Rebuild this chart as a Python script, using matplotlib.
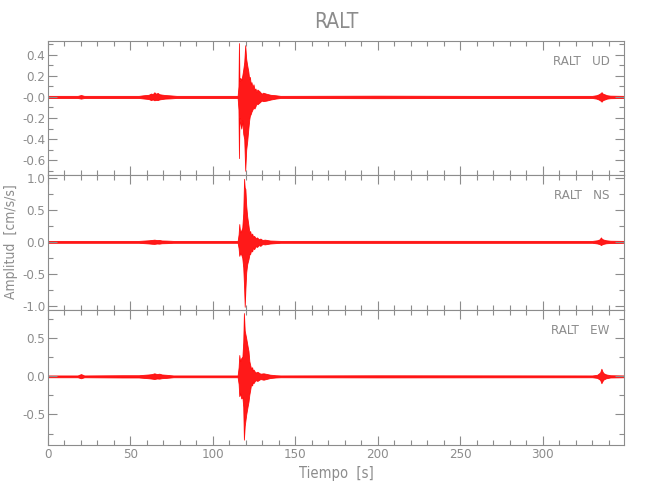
import matplotlib

matplotlib.use("Agg")
import matplotlib.pyplot as plt
from matplotlib import font_manager
from matplotlib.ticker import MultipleLocator

# narrow thin face, close to the plotting font of the original
names = {f.name for f in font_manager.fontManager.ttflist}
narrow = [n for n in ["Liberation Sans Narrow", "DejaVu Sans"] if n in names]
plt.rcParams["font.family"] = narrow + ["DejaVu Sans"]
plt.rcParams["font.stretch"] = "condensed"
plt.rcParams["font.weight"] = "light"

GRAY = "#8c8c8c"
TRACE = "#ff0000"

station = "RALT"
components = ["UD", "NS", "EW"]

# envelope of each trace (time [s], upper and lower amplitude [cm/s/s])
t_ud = [0, 18, 20, 22, 55, 58, 61, 62.5, 63.5, 64.5, 65.5, 66.5, 67.5, 69, 71, 74, 78,
        115.0, 115.5, 115.8, 116.1, 116.6, 117.2, 117.8, 118.4, 119.0, 119.6, 120.2, 120.8,
        121.5, 122.0, 122.4, 123.0, 123.4, 124.0, 124.6, 125.2, 125.8, 126.4, 127.0, 128.5,
        129.5, 130.5, 132.5, 135.0, 138.0, 141.0,
        200, 260, 330, 332.5, 334, 335, 335.7, 336.5, 337.5, 339, 341, 349.3]
hi_ud = [0.01, 0.01, 0.018, 0.01, 0.01, 0.016, 0.02, 0.032, 0.026, 0.044, 0.03, 0.038, 0.026, 0.022, 0.018, 0.015, 0.01,
         0.01, 0.10, 0.51, 0.15, 0.18, 0.16, 0.20, 0.26, 0.33, 0.49, 0.36, 0.30,
         0.24, 0.17, 0.19, 0.12, 0.14, 0.09, 0.12, 0.07, 0.08, 0.05, 0.07, 0.05,
         0.03, 0.04, 0.03, 0.02, 0.016, 0.01,
         0.012, 0.01, 0.01, 0.016, 0.025, 0.035, 0.045, 0.03, 0.025, 0.016, 0.012, 0.01]
lo_ud = [-0.01, -0.01, -0.016, -0.01, -0.01, -0.015, -0.02, -0.03, -0.024, -0.032, -0.028, -0.03, -0.024, -0.02, -0.016, -0.014, -0.01,
         -0.01, -0.12, -0.58, -0.20, -0.25, -0.30, -0.22, -0.35, -0.40, -0.70, -0.50, -0.42,
         -0.30, -0.22, -0.18, -0.16, -0.14, -0.12, -0.10, -0.11, -0.09, -0.06, -0.07, -0.05,
         -0.035, -0.04, -0.035, -0.025, -0.016, -0.01,
         -0.012, -0.01, -0.01, -0.016, -0.025, -0.035, -0.045, -0.03, -0.025, -0.016, -0.012, -0.01]

t_ns = [0, 55, 58, 61, 63, 64.5, 66, 67.5, 69, 72, 76,
        115.0, 115.6, 116.0, 116.5, 117.2, 117.8, 118.4, 118.9, 119.3, 119.7, 120.2, 120.8,
        121.6, 122.1, 122.6, 123.2, 123.8, 124.4, 125.0, 125.9, 126.8, 127.8, 128.8, 130.0,
        131.5, 134.7, 138.0, 141.0,
        200, 330, 333, 334.5, 335.3, 336, 337, 338.5, 341, 349.3]
hi_ns = [0.015, 0.015, 0.02, 0.025, 0.03, 0.035, 0.028, 0.03, 0.022, 0.02, 0.015,
         0.015, 0.12, 0.28, 0.15, 0.18, 0.22, 0.45, 0.99, 0.85, 0.83, 0.57, 0.40,
         0.25, 0.15, 0.17, 0.10, 0.13, 0.08, 0.094, 0.06, 0.07, 0.04, 0.052, 0.03,
         0.035, 0.021, 0.018, 0.015,
         0.016, 0.015, 0.025, 0.04, 0.07, 0.045, 0.035, 0.025, 0.018, 0.015]
lo_ns = [-0.015, -0.015, -0.02, -0.025, -0.03, -0.032, -0.026, -0.028, -0.022, -0.02, -0.015,
         -0.015, -0.10, -0.22, -0.18, -0.20, -0.25, -0.40, -0.70, -1.02, -0.75, -0.48, -0.35,
         -0.27, -0.20, -0.19, -0.13, -0.15, -0.09, -0.115, -0.07, -0.08, -0.05, -0.063, -0.035,
         -0.04, -0.026, -0.02, -0.015,
         -0.016, -0.015, -0.025, -0.035, -0.05, -0.04, -0.03, -0.022, -0.018, -0.015]

t_ew = [0, 18, 20, 22, 45, 55, 58, 61, 63, 64.5, 66, 67.5, 69, 72, 76,
        115.0, 115.6, 116.0, 116.5, 117.2, 117.9, 118.4, 118.8, 119.3, 120.2, 121.0, 121.6,
        122.1, 122.6, 123.2, 123.8, 124.2, 124.6, 125.8, 127.0, 128.8, 130.7, 134.7, 138.0, 141.0,
        200, 330, 333, 334.8, 335.6, 336.3, 337, 338.5, 341, 349.3]
hi_ew = [0.012, 0.012, 0.03, 0.012, 0.015, 0.015, 0.02, 0.025, 0.03, 0.04, 0.03, 0.035, 0.025, 0.02, 0.012,
         0.012, 0.12, 0.28, 0.20, 0.24, 0.26, 0.45, 0.83, 0.60, 0.50, 0.40, 0.33,
         0.20, 0.15, 0.10, 0.12, 0.07, 0.09, 0.05, 0.06, 0.035, 0.04, 0.022, 0.015, 0.012,
         0.014, 0.012, 0.02, 0.05, 0.10, 0.06, 0.04, 0.025, 0.015, 0.012]
lo_ew = [-0.012, -0.012, -0.025, -0.012, -0.015, -0.015, -0.02, -0.025, -0.03, -0.035, -0.028, -0.03, -0.024, -0.02, -0.012,
         -0.012, -0.10, -0.26, -0.22, -0.29, -0.27, -0.40, -0.83, -0.65, -0.50, -0.40, -0.33,
         -0.24, -0.18, -0.10, -0.12, -0.07, -0.09, -0.05, -0.06, -0.035, -0.044, -0.022, -0.015, -0.012,
         -0.014, -0.012, -0.02, -0.045, -0.09, -0.06, -0.04, -0.025, -0.015, -0.012]

ylims = [(-0.74, 0.53), (-1.07, 1.05), (-0.90, 0.87)]
yticks = [[-0.6, -0.4, -0.2, 0.0, 0.2, 0.4], [-1.0, -0.5, 0.0, 0.5, 1.0], [-0.5, 0.0, 0.5]]
ytick_labels = [["-0.6", "-0.4", "-0.2", "-0.0", "0.2", "0.4"],
                ["-1.0", "-0.5", "0.0", "0.5", "1.0"],
                ["-0.5", "0.0", "0.5"]]
yminor = [0.1, 0.25, 0.25]
xmax = 349.3

traces = [(t_ud, hi_ud, lo_ud), (t_ns, hi_ns, lo_ns), (t_ew, hi_ew, lo_ew)]

fig = plt.figure(figsize=(6.5, 5.0), dpi=100)
left, right = 48 / 650, 624 / 650
edges = [41, 175, 310, 445]

axes = []
for i, comp in enumerate(components):
    top = 1 - edges[i] / 500
    bottom = 1 - edges[i + 1] / 500
    ax = fig.add_axes([left, bottom, right - left, top - bottom])
    axes.append(ax)
    t, hi, lo = traces[i]
    ax.fill_between(t, lo, hi, color=TRACE, linewidth=0.6, edgecolor=TRACE, alpha=0.9)
    ax.set_xlim(0, xmax)
    ax.set_ylim(*ylims[i])
    ax.set_yticks(yticks[i])
    ax.set_yticklabels(ytick_labels[i])
    ax.yaxis.set_minor_locator(MultipleLocator(yminor[i]))
    ax.xaxis.set_major_locator(MultipleLocator(50))
    ax.xaxis.set_minor_locator(MultipleLocator(10))
    ax.tick_params(which="both", direction="in", top=True, right=True, colors=GRAY,
                   labelcolor=GRAY, width=0.8, labelsize=9.5, pad=2)
    ax.tick_params(which="major", length=6.5)
    ax.tick_params(which="minor", length=3.5)
    for s in ax.spines.values():
        s.set_color(GRAY)
        s.set_linewidth(0.8)
    if i < 2:
        ax.tick_params(labelbottom=False)
    ax.text(0.975, 0.85, f"{station}   {comp}", transform=ax.transAxes, ha="right", va="center",
            color=GRAY, fontsize=9.5)

axes[2].set_xlabel("Tiempo  [s]", color=GRAY, fontsize=10.5, labelpad=4)
fig.text(0.017, 1 - 242 / 500, "Amplitud  [cm/s/s]", rotation=90, ha="center", va="center",
         color=GRAY, fontsize=10)
fig.text((left + right) / 2, 1 - 22 / 500, station, ha="center", va="center",
         color=GRAY, fontsize=15)

fig.savefig("out.png", dpi=100)
